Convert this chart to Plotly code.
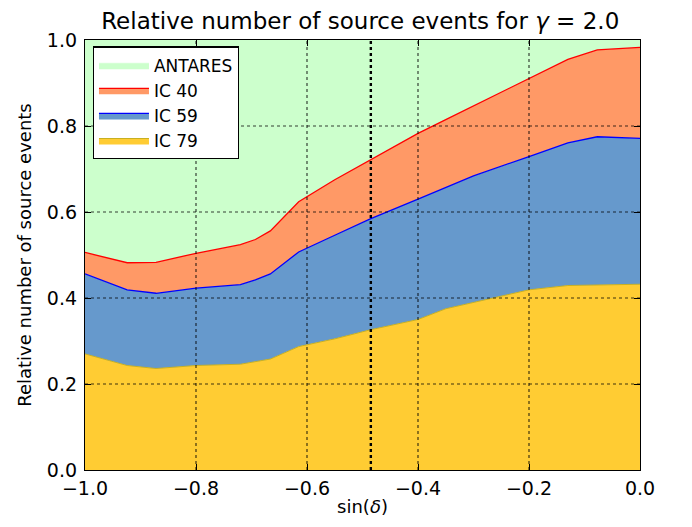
import plotly.graph_objects as go

# sin(declination) sample points
sin_dec = [-1.0, -0.924, -0.872, -0.80, -0.72, -0.693, -0.666, -0.615, -0.55,
           -0.486, -0.40, -0.35, -0.30, -0.20, -0.13, -0.077, 0.0]

# relative share of source events per detector (stacked bottom -> top)
ic79 = [0.270, 0.243, 0.236, 0.243, 0.246, 0.252, 0.258, 0.287, 0.305,
        0.326, 0.350, 0.375, 0.390, 0.419, 0.429, 0.430, 0.432]
ic59 = [0.186, 0.176, 0.175, 0.180, 0.185, 0.190, 0.198, 0.220, 0.241,
        0.258, 0.280, 0.282, 0.294, 0.310, 0.332, 0.345, 0.339]
ic40 = [0.050, 0.063, 0.072, 0.081, 0.093, 0.094, 0.100, 0.117, 0.129,
        0.137, 0.153, 0.158, 0.163, 0.182, 0.194, 0.202, 0.212]
antares = [0.494, 0.518, 0.517, 0.496, 0.476, 0.464, 0.444, 0.376, 0.328,
           0.279, 0.217, 0.185, 0.153, 0.089, 0.045, 0.023, 0.017]

marker_line_x = -0.485

x_ticks = [-1.0, -0.8, -0.6, -0.4, -0.2, 0.0]
x_tick_text = ["\u22121.0", "\u22120.8", "\u22120.6", "\u22120.4", "\u22120.2", "0.0"]
y_ticks = [0.0, 0.2, 0.4, 0.6, 0.8, 1.0]

series = [
    ("IC 79", ic79, "#ffcc33", "#c8b020", 1),
    ("IC 59", ic59, "#6699cc", "#0000ff", 1.3),
    ("IC 40", ic40, "#ff9966", "#ff0000", 1.3),
    ("ANTARES", antares, "#ccffcc", "#ccffcc", 0.5),
]

fig = go.Figure()
for name, vals, fill, line, lw in series:
    fig.add_trace(go.Scatter(
        x=sin_dec, y=vals, name=name, mode="lines",
        stackgroup="one", fillcolor=fill,
        line=dict(color=line, width=lw),
        hoverinfo="x+y+name",
    ))

# dotted grid drawn above the filled areas (as in the reference)
for xv in x_ticks[1:-1]:
    fig.add_shape(type="line", xref="x", yref="paper", x0=xv, x1=xv, y0=0, y1=1,
                  line=dict(color="rgba(0,0,0,0.75)", width=1.2, dash="dot"), layer="above")
for yv in y_ticks[1:-1]:
    fig.add_shape(type="line", xref="paper", yref="y", x0=0, x1=1, y0=yv, y1=yv,
                  line=dict(color="rgba(0,0,0,0.75)", width=1.2, dash="dot"), layer="above")

fig.add_shape(type="line", xref="x", yref="paper",
              x0=marker_line_x, x1=marker_line_x, y0=0, y1=1,
              line=dict(color="black", width=2.4, dash="dot"), layer="above")

font = "DejaVu Sans, Liberation Sans, sans-serif"
fig.update_layout(
    width=692, height=527,
    margin=dict(l=77, r=60, t=32, b=65),
    paper_bgcolor="white", plot_bgcolor="white",
    font=dict(family=font, size=18, color="black"),
    title=dict(text="Relative number of source events for <i>\u03b3</i> = 2.0",
               x=0.509, xanchor="center", y=1.0, yanchor="top",
               pad=dict(t=5, b=0, l=0, r=0),
               font=dict(size=23)),
    showlegend=True,
    legend=dict(x=0.014, y=0.985, xanchor="left", yanchor="top",
                traceorder="reversed", bgcolor="white",
                bordercolor="black", borderwidth=1.2,
                font=dict(size=17), itemwidth=50, tracegroupgap=0),
    xaxis=dict(range=[-1.0, 0.0], tickvals=x_ticks, ticktext=x_tick_text,
               title=dict(text="sin(<i>\u03b4</i>)", standoff=2, font=dict(size=18)),
               showgrid=False, automargin=False, ticklabelstandoff=1,
               ticks="inside", ticklen=6, tickcolor="black", mirror="ticks",
               showline=True, linecolor="black", linewidth=1.3, zeroline=False,
               layer="above traces", tickfont=dict(size=19)),
    yaxis=dict(range=[0.0, 1.0], tickvals=y_ticks, tickformat=".1f",
               title=dict(text="Relative number of source events", standoff=10,
                          font=dict(size=18)),
               showgrid=False, automargin=False, ticklabelstandoff=3,
               ticks="inside", ticklen=6, tickcolor="black", mirror="ticks",
               showline=True, linecolor="black", linewidth=1.3, zeroline=False,
               layer="above traces", tickfont=dict(size=19)),
)

fig.write_html("out.html")
